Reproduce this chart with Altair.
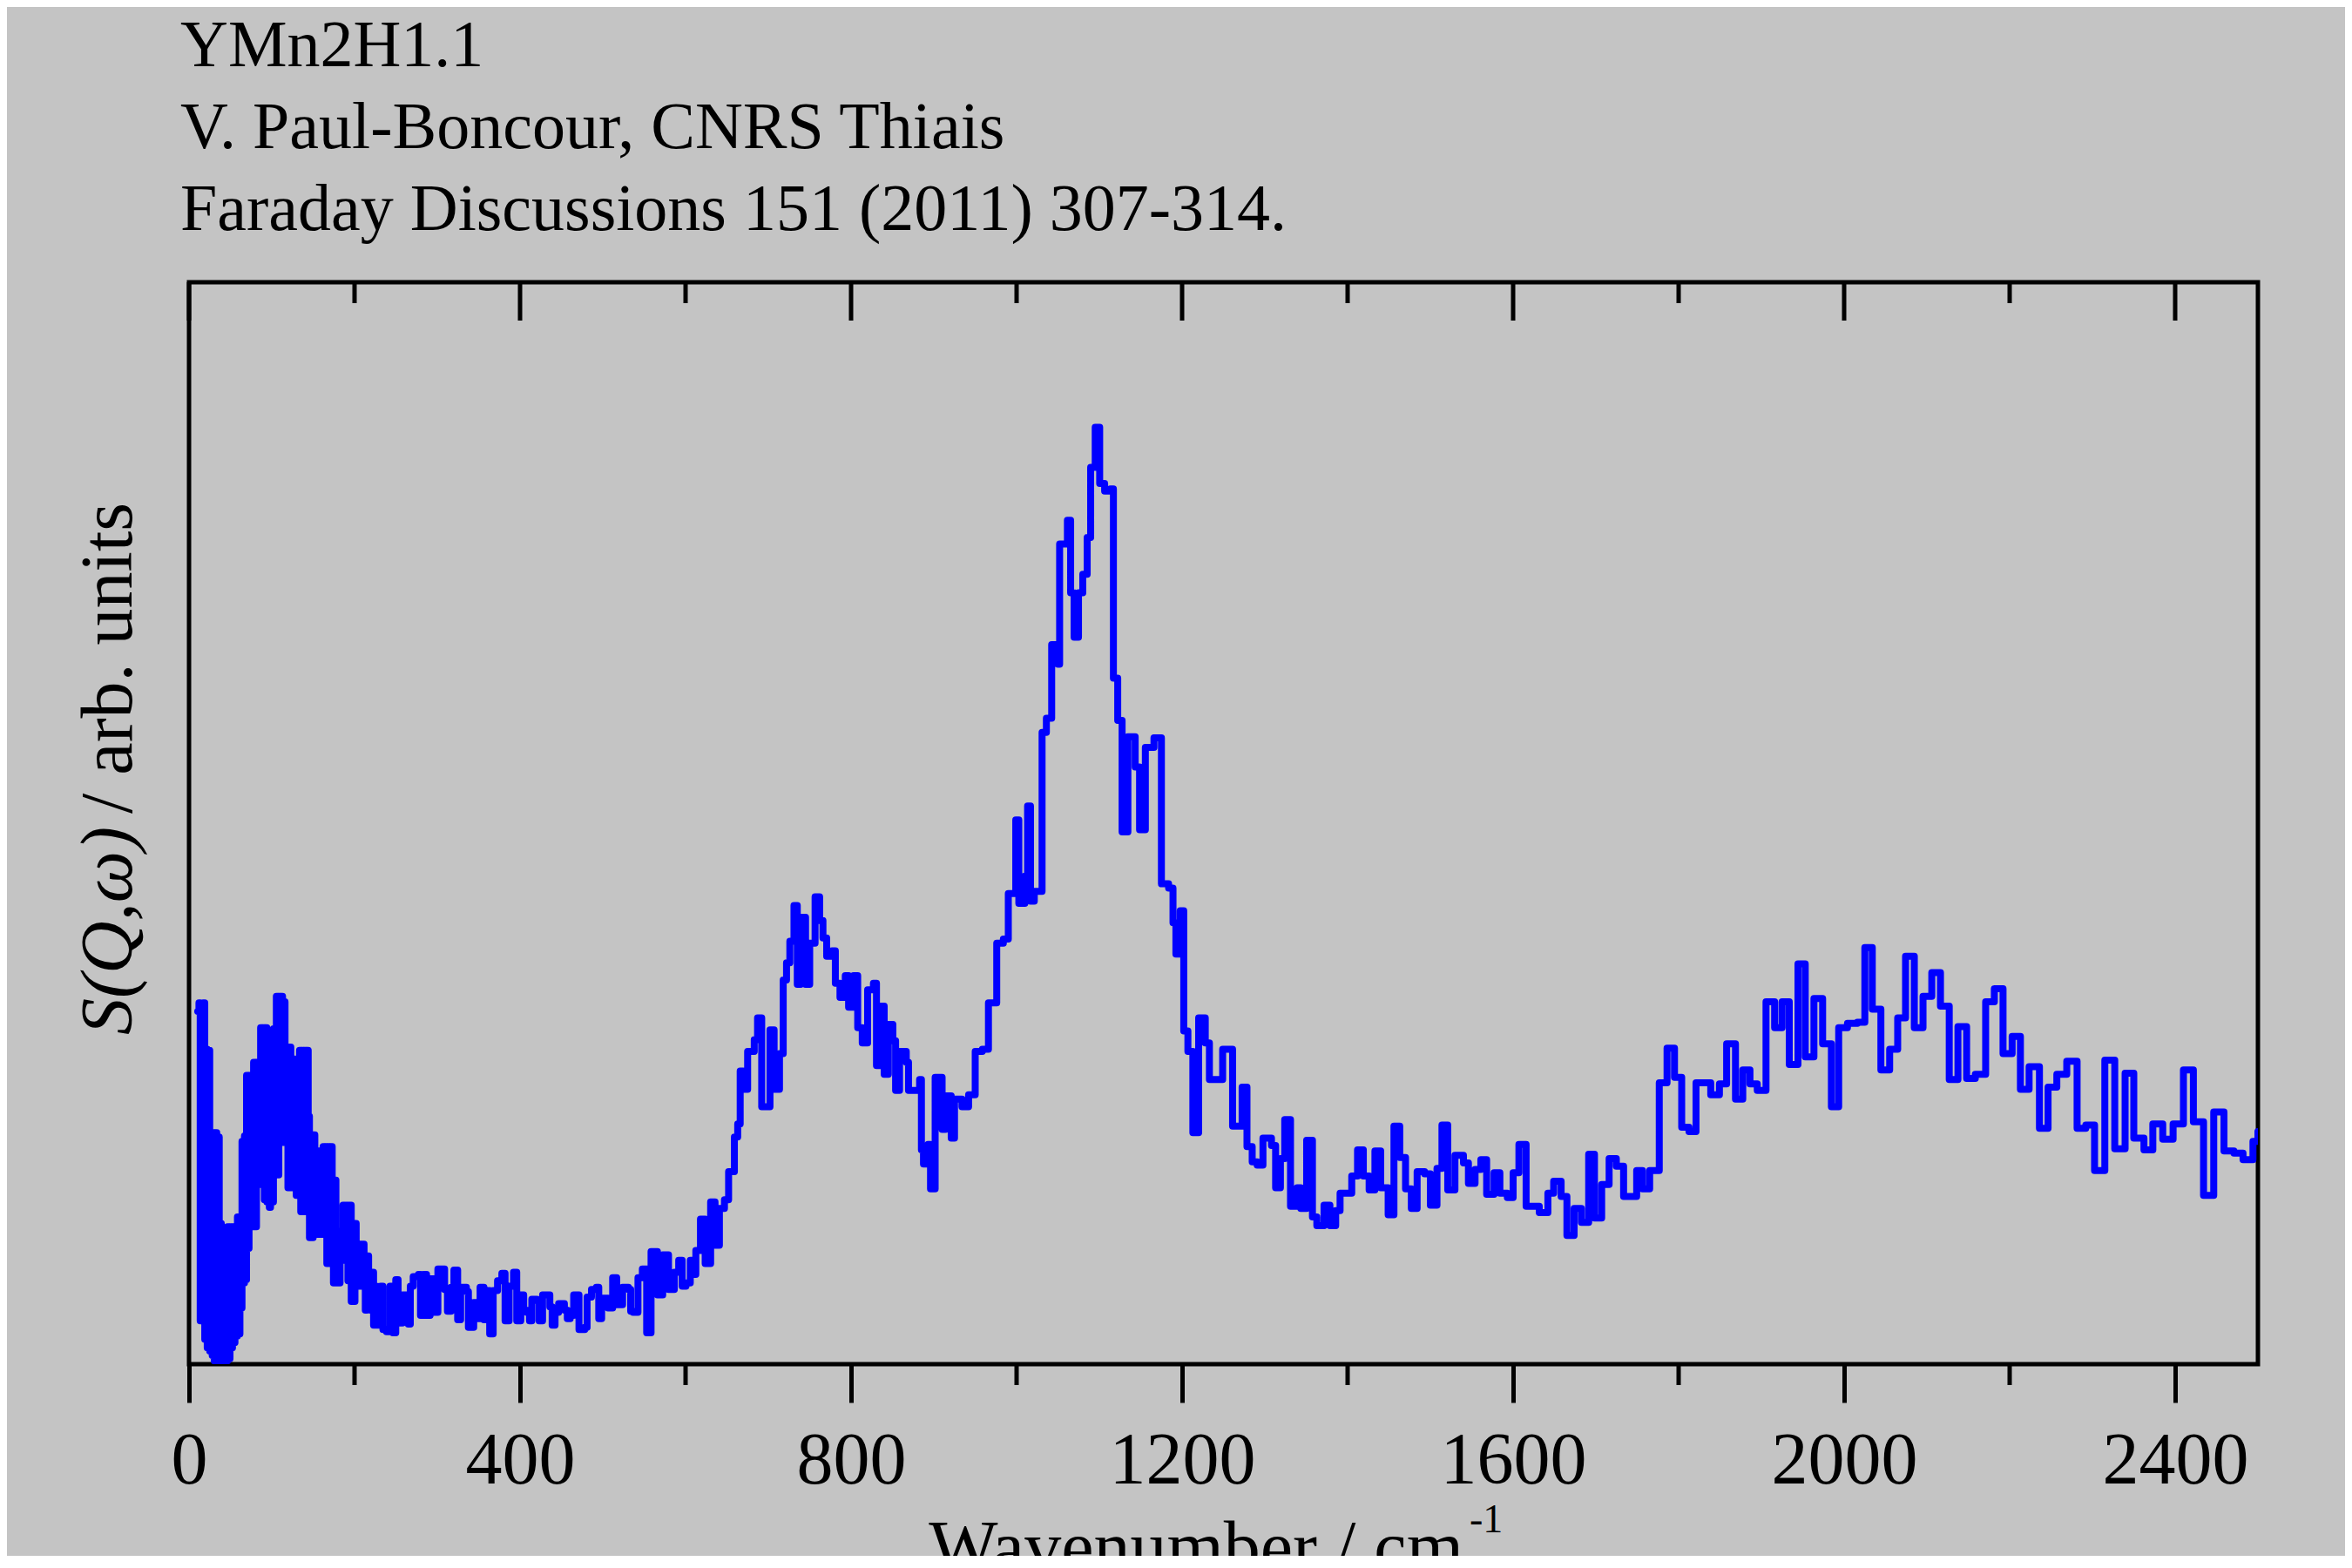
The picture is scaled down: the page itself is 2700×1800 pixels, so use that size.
import altair as alt
import pandas as pd

# ---------------- data ----------------
wavenumber = [
    10.5, 12, 13.5, 14.5, 16, 17, 19, 20, 22, 23.5, 25, 26.5, 28, 29, 30.5, 32, 33.5, 35, 36.5, 37.5,
    39, 40.5, 42, 43.5, 45, 46.5, 48, 49.5, 51, 52.5, 54, 55.5, 57, 58.5, 60, 61.5, 63, 64, 65.5, 67,
    68.5, 69.5, 71, 72.5, 74, 75.5, 77, 78, 80, 81.5, 83, 84.5, 86.5, 88, 89.5, 91, 92.5, 94, 95.5, 97,
    98.5, 100, 102, 103.5, 105.5, 107, 108.5, 110, 111.5, 113, 114.5, 116, 118, 119.5, 121, 123, 124.5, 126, 128, 129.5,
    131, 133.5, 135, 136.5, 138, 139.5, 141, 142.5, 144, 145.5, 147, 148.5, 150, 152, 153, 154.5, 156, 157.5, 159, 160.5,
    162, 163.5, 165, 166.5, 168, 169.5, 171, 173, 174.5, 176, 177.5, 179, 181, 182.5, 184.5, 186, 188, 190, 192, 194,
    196, 197, 199, 200.5, 202, 204, 206, 208, 210, 211.5, 213, 215, 217, 219, 221, 223, 225, 227,
    231.5, 234.3, 238.6, 242.8, 246.3, 249.8, 252.6, 257.9, 264.9, 267.4, 270.9, 277.2, 279.7, 283.5, 287.0, 291.3,
    295.8, 300.7, 308.8, 312.3, 316.6, 320.1, 324.6, 328.2, 335.2, 337.6, 344.0, 347.5, 351.7, 356.3, 360.5, 363.3,
    367.5, 372.8, 378.0, 381.9, 386.8, 392.1, 396.0, 400.9, 404.4, 407.9, 411.4, 414.2, 420.2, 423.0, 427.2, 436.0,
    438.8, 442.3, 446.6, 453.6, 457.1, 460.6, 464.8, 471.2, 478.2, 481.0, 486.3, 492.2, 495.1, 498.6, 506.3, 511.9,
    516.8, 523.9, 530.9, 533.7, 536.5, 542.5, 547.8, 553.0, 558.3, 566.0, 572.4, 579.4, 586.4, 591.7, 595.9, 600.5,
    605.7, 608.9, 612.4, 618.0, 623.7, 630.3, 635.6, 640.9,
    647, 652, 659, 663, 666, 669.5, 675, 683, 687, 692, 702, 707, 713.5, 718, 722, 726, 731, 735, 739, 745,
    750, 756.5, 762, 766, 770.5, 777, 781, 786.6, 793, 797, 803, 808, 813.5, 820, 827, 830.7, 836, 840, 845, 850.5,
    853.8, 858.6, 866.7, 869.4, 882.8, 885, 887.5, 893, 896, 901.6, 910, 914, 921, 925, 934, 942, 950, 958.6, 966, 976,
    984, 990, 999, 1002.7, 1010, 1013.3, 1016.8, 1021.4, 1030.8, 1036, 1042.4, 1050, 1052, 1061.4, 1065.3, 1069.5,
    1074.8, 1080, 1085.3, 1089.5, 1095, 1100.4, 1106.4, 1113.4, 1117, 1122.2, 1127.5, 1134.5, 1143.3, 1148.6, 1155.6, 1166,
    1175, 1183.7, 1189, 1192.5, 1197.7, 1202, 1207, 1213, 1220, 1228, 1233, 1249,
    1261, 1272.5, 1278.4, 1284.7, 1290.7, 1297.7, 1308, 1313, 1318.8, 1324, 1331, 1339, 1343.4, 1350.5, 1357.5, 1362.8,
    1371.5, 1378.6, 1385.6, 1390.9, 1405, 1412, 1419, 1426, 1433, 1440, 1449, 1456, 1463, 1470, 1477, 1484,
    1493, 1500, 1508, 1514, 1521, 1529.7, 1540, 1546, 1554, 1561, 1568, 1577, 1584, 1593, 1600, 1607,
    1615.7, 1631.6, 1642, 1649, 1658, 1665, 1673.7, 1682.5, 1691.3, 1698.3, 1707, 1716, 1724.7, 1733.5, 1749.3, 1756.3,
    1765, 1776.6, 1786, 1795, 1803.7, 1812.5, 1821, 1838.8, 1849.3, 1858, 1868.7, 1877.5, 1886.2, 1895, 1905.6, 1916,
    1925, 1933.7, 1944.2, 1953, 1963.5, 1974, 1984.6, 1993.4, 2004, 2016, 2025, 2034, 2044.4, 2055, 2064.7, 2074.2,
    2084.8, 2095.3, 2105.9, 2116.4, 2127, 2137.5, 2148, 2158.5, 2171, 2181.5, 2192, 2203, 2213, 2223.5, 2236, 2246.4,
    2257, 2269, 2281.5, 2292, 2302.6, 2315, 2327, 2339.5, 2350, 2362.3, 2373, 2385, 2397.5, 2410, 2422, 2434.3,
    2446.6, 2459, 2471, 2482, 2494, 2500,
]

intensity = [
    32.6, 33.4, 4.0, 33.0, 8.0, 33.4, 2.3, 29.1, 1.5, 29.0, 1.2, 21.3, 0.8, 21.4, 0.3, 21.4, 0.2, 21.0, 0.2, 13.0,
    0.2, 12.5, 0.2, 12.3, 0.3, 12.7, 0.5, 12.7, 1.5, 12.7, 2.0, 12.7, 2.6, 13.6, 2.8, 13.6, 5.2, 20.6, 7.5, 21.1,
    7.8, 26.7, 10.7, 26.7, 12.7, 26.7, 12.7, 27.9, 12.7, 27.9, 16.6, 27.5, 31.1, 16.6, 31.1, 15.2, 31.1, 15.0, 26.2, 14.5,
    26.2, 15.0, 31.0, 17.5, 34.0, 17.5, 34.0, 20.5, 34.0, 20.5, 33.5, 20.5, 29.3, 16.3, 29.3, 28.2, 16.3, 28.2, 27.2, 15.6,
    27.2, 29.0, 14.1, 29.0, 14.1, 29.0, 14.1, 29.0, 22.9, 11.7, 21.2, 11.7, 21.2, 12.0, 19.7, 12.0, 19.7, 12.0, 19.7, 12.0,
    20.1, 12.0, 20.1, 9.3, 20.1, 9.3, 20.1, 17.0, 7.5, 17.0, 7.5, 11.5, 7.5, 12.3, 9.6, 14.7, 9.6, 14.7, 7.7, 14.7,
    5.8, 13.0, 5.8, 13.0, 11.1, 7.2, 11.1, 7.2, 11.1, 10.0, 5.0, 10.0, 8.5, 5.0, 8.5, 3.6, 7.2, 3.6,
    7.2, 3.2, 3.0, 7.2, 2.9, 7.8, 3.8, 6.4, 3.7, 7.2, 8.1, 8.3, 4.5, 8.3, 4.5, 7.9,
    4.8, 8.8, 6.9, 4.9, 7.1, 8.7, 4.1, 7.1, 6.7, 3.4, 5.7, 4.2, 7.1, 4.1, 6.8, 2.8,
    6.8, 7.7, 8.4, 4.0, 7.2, 8.5, 4.0, 6.4, 5.0, 4.8, 4.0, 6.0, 5.9, 4.0, 6.4, 5.3,
    3.6, 4.8, 5.6, 5.0, 4.2, 4.5, 6.4, 3.2, 3.4, 6.2, 6.9, 7.1, 4.2, 6.1, 5.2, 8.0,
    5.5, 7.1, 6.9, 4.9, 4.8, 8.0, 8.8, 2.9, 10.4, 6.4, 10.1, 6.9, 8.5, 9.6, 7.2, 7.5,
    9.6, 8.3, 10.5, 13.4, 9.3, 15.0, 11.0, 14.4,
    15.2, 17.8, 21.0, 22.2, 27.1, 25.4, 28.9, 30.0, 32.0, 23.8, 30.9, 25.4, 28.7, 35.5, 37.1, 39.1, 42.4, 35.1, 41.3, 35.1,
    38.9, 43.2, 41.0, 39.4, 37.7, 38.2, 35.2, 33.9, 35.9, 33.0, 35.9, 31.1, 29.7, 34.6, 35.2, 27.6, 33.1, 26.8, 31.4, 29.9,
    25.3, 28.9, 27.9, 25.3, 26.3, 19.8, 18.5, 20.3, 16.2, 26.5, 21.7, 24.8, 20.9, 24.5, 23.8, 24.9, 28.9, 29.1, 33.4, 38.9,
    39.3, 43.5, 50.3, 42.6, 45.1, 51.6, 42.8, 43.7, 58.4, 59.7, 66.5, 64.7, 75.8, 78.0, 71.3, 67.2,
    71.3, 73.0, 76.4, 82.9, 86.6, 81.4, 80.7, 80.9, 63.4, 59.5, 49.2, 58.0, 55.2, 49.4, 57.0, 57.9,
    44.4, 44.0, 40.8, 37.9, 41.9, 30.8, 28.9, 21.4, 32.0, 29.7, 26.3, 29.1,
    22.0, 25.6, 20.1, 18.7, 18.4, 20.9, 20.2, 16.3, 19.0, 22.6, 14.6, 16.3, 14.4, 20.7, 13.6, 12.8,
    14.7, 12.8, 14.2, 15.8, 17.4, 19.8, 17.4, 16.1, 19.7, 16.3, 13.8, 22.0, 19.1, 16.2, 14.4, 17.8,
    17.6, 14.7, 18.1, 22.1, 16.1, 19.3, 18.6, 16.7, 18.0, 18.9, 15.7, 17.7, 15.8, 15.4, 17.7, 20.3,
    14.6, 14.0, 15.8, 16.9, 15.5, 11.9, 14.4, 13.1, 19.4, 13.5, 16.6, 19.0, 18.3, 15.5, 17.9, 16.2,
    17.9, 26.0, 29.2, 26.5, 21.9, 21.5, 26.0, 24.9, 25.9, 29.6, 24.5, 27.2, 25.9, 25.3, 33.5, 31.1,
    33.5, 27.7, 37.0, 28.4, 33.8, 29.6, 23.8, 31.1, 31.5, 31.6, 38.5, 32.8, 27.2, 29.1, 32.0, 37.7,
    31.1, 34.0, 36.2, 33.1, 26.3, 31.2, 26.4, 26.8, 33.5, 34.7, 28.7, 30.3, 25.4, 27.5, 21.8, 25.6,
    26.8, 28.0, 21.8, 22.1, 17.9, 28.1, 19.9, 26.9, 20.9, 19.8, 22.2, 20.8, 22.2, 27.2, 22.4, 15.6,
    23.3, 19.7, 19.5, 18.9, 20.6, 21.5,
]

major_ticks = [0, 400, 800, 1200, 1600, 2000, 2400]
minor_ticks = [200, 600, 1000, 1400, 1800, 2200]

header_lines = [
    "YMn2H1.1",
    "V. Paul-Boncour, CNRS Thiais",
    "Faraday Discussions 151 (2011) 307-314.",
]
x_title = "Wavenumber / cm"
x_title_sup = "-1"
y_title_italic = "S(Q,\u03c9)"
y_title_rest = "/ arb. units"

# ---------------- layout ----------------
W, H = 2375, 1242
FONT = "Liberation Serif"
LW = 5  # frame / tick width

x_scale = alt.Scale(domain=[0, 2500], nice=False, zero=False)
y_scale = alt.Scale(domain=[0, 100], nice=False, zero=False)

x_axis = alt.Axis(
    values=major_ticks, format="d", title=None, grid=False, domain=False,
    ticks=True, tickSize=44, tickWidth=LW, tickColor="black",
    labelFont=FONT, labelFontSize=84, labelColor="black", labelPadding=26,
    labelFlush=False, labelOverlap=False, labelBound=False,
)

df = pd.DataFrame({"x": wavenumber, "y": intensity})

line = alt.Chart(df).mark_line(
    color="#0000FF", strokeWidth=8, interpolate="step-after",
    strokeJoin="round", strokeCap="round", clip=True,
).encode(
    x=alt.X("x:Q", scale=x_scale, axis=x_axis),
    y=alt.Y("y:Q", scale=y_scale, axis=None),
)

minor_df = pd.DataFrame({"x": minor_ticks})
major_df = pd.DataFrame({"x": major_ticks})

bottom_minor = alt.Chart(minor_df).mark_rule(color="black", strokeWidth=LW).encode(
    x=alt.X("x:Q", scale=x_scale, axis=x_axis),
    y=alt.value(H), y2=alt.value(H + 24),
)
top_minor = alt.Chart(minor_df).mark_rule(color="black", strokeWidth=LW).encode(
    x=alt.X("x:Q", scale=x_scale, axis=x_axis),
    y=alt.value(0), y2=alt.value(24),
)
top_major = alt.Chart(major_df).mark_rule(color="black", strokeWidth=LW).encode(
    x=alt.X("x:Q", scale=x_scale, axis=x_axis),
    y=alt.value(0), y2=alt.value(44),
)


def label(text, x, y, size, align="left", angle=0, style="normal", baseline="alphabetic"):
    kw = dict(text=text, font=FONT, fontSize=size, color="black", align=align,
              baseline=baseline, fontStyle=style)
    if angle:
        kw["angle"] = angle
    return alt.Chart(pd.DataFrame({"t": [text]})).mark_text(**kw).encode(
        x=alt.value(x), y=alt.value(y)
    )


texts = [
    label(header_lines[0], -10, -248, 76),
    label(header_lines[1], -10, -154, 76),
    label(header_lines[2], -10, -60, 76),
    label(x_title, 1463, 1480, 84, align="right"),
    label(x_title_sup, 1470, 1435, 46, align="left"),
    label(y_title_italic, -66, 864, 84, align="left", angle=270, style="italic"),
    label(y_title_rest, -66, 253, 84, align="right", angle=270),
]

chart = alt.layer(line, bottom_minor, top_minor, top_major, *texts).properties(
    width=W, height=H,
    padding={"left": 209, "top": 316, "right": 100, "bottom": 220},
    autosize=alt.AutoSizeParams(type="none"),
    background="#C4C4C4",
).configure_view(
    stroke="black", strokeWidth=LW, fill="#C4C4C4",
)

chart.save("out.html", embed_options={"renderer": "svg", "actions": False})
